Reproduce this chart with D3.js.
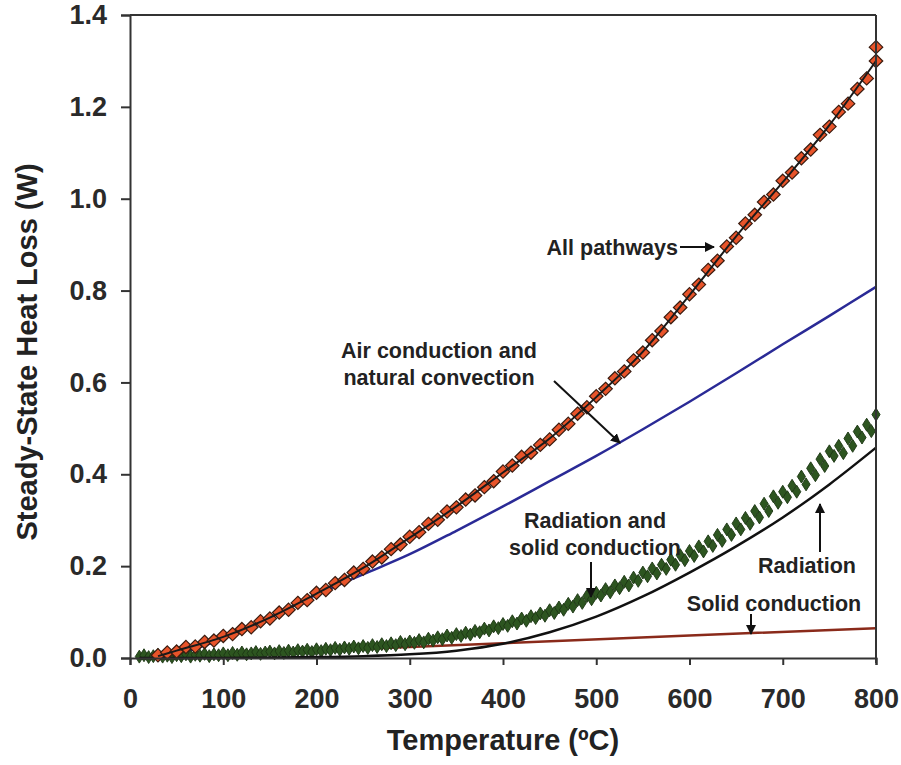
<!DOCTYPE html>
<html><head><meta charset="utf-8">
<script src="https://cdn.jsdelivr.net/npm/d3@7"></script>
<style>
body{margin:0;background:#fff;}
svg{display:block;}
text{font-family:"Liberation Sans",Arial,sans-serif;}
</style></head>
<body><svg id="c" width="901" height="765"></svg>
<script>
// ---------- DATA ----------
const xTicks = [0,100,200,300,400,500,600,700,800];
const yTicks = [0.0,0.2,0.4,0.6,0.8,1.0,1.2,1.4];

// All pathways (measured, orange markers)
const allT = [30,40,50,60,70,80,90,100,110,120,130,140,150,160,170,180,190,200,210,220,230,240,250,260,270,280,290,300,310,320,330,340,350,360,370,380,390,400,410,420,430,440,450,460,470,480,490,500,510,520,530,540,550,560,570,580,590,600,610,620,630,640,650,660,670,680,690,700,710,720,730,740,750,760,770,780,790,800,800];
const allV = [0.006,0.012,0.014,0.024,0.025,0.035,0.038,0.048,0.052,0.063,0.067,0.080,0.086,0.099,0.105,0.120,0.126,0.142,0.148,0.163,0.170,0.186,0.194,0.210,0.219,0.237,0.247,0.264,0.274,0.292,0.301,0.319,0.328,0.345,0.354,0.372,0.385,0.406,0.419,0.438,0.447,0.464,0.476,0.497,0.510,0.532,0.546,0.570,0.586,0.609,0.624,0.648,0.665,0.692,0.712,0.742,0.763,0.792,0.813,0.845,0.865,0.896,0.915,0.946,0.965,0.993,1.009,1.039,1.057,1.088,1.107,1.139,1.157,1.189,1.207,1.239,1.262,1.300,1.330];
// All pathways (model, black line)
const allFitT = [30,50,100,150,200,250,300,350,400,450,500,550,600,650,700,750,800];
const allFitV = [0.004,0.016,0.046,0.088,0.140,0.196,0.262,0.330,0.404,0.478,0.568,0.667,0.790,0.918,1.036,1.160,1.300];

// Air conduction and natural convection (blue line)
const airT = [40,100,150,200,250,300,350,400,450,500,550,600,650,700,750,800];
const airV = [0.000,0.042,0.088,0.138,0.182,0.226,0.277,0.330,0.385,0.440,0.498,0.558,0.620,0.683,0.745,0.808];

// Radiation (black line)
const radT = [10,100,200,250,300,350,400,450,500,550,600,650,700,750,800];
const radV = [0.000,0.000,0.002,0.004,0.008,0.016,0.031,0.056,0.090,0.134,0.186,0.243,0.306,0.378,0.458];

// Solid conduction (brown line)
const solT = [10,200,400,600,800];
const solV = [0.000,0.016,0.032,0.049,0.065];

// Radiation and solid conduction (measured, green markers)
const rsT = d3.range(10,801,5);
const rsV = [0.003,0.006,0.002,0.004,0.007,0.003,0.005,0.002,0.006,
0.004,0.008,0.003,0.007,0.005,0.009,0.004,0.008,0.006,0.010,
0.006,0.011,0.007,0.012,0.008,0.010,0.013,0.009,0.012,0.014,
0.010,0.015,0.011,0.016,0.012,0.017,0.014,0.018,0.013,0.019,
0.015,0.020,0.017,0.022,0.018,0.023,0.020,0.025,0.021,0.026,
0.022,0.028,0.024,0.030,0.026,0.032,0.028,0.035,0.030,0.036,
0.033,0.039,0.034,0.042,0.038,0.045,0.041,0.049,0.044,0.052,
0.048,0.055,0.051,0.059,0.056,0.064,0.060,0.069,0.065,0.074,
0.070,0.080,0.075,0.086,0.081,0.091,0.087,0.097,0.092,0.104,
0.098,0.110,0.105,0.118,0.112,0.126,0.120,0.135,0.128,0.142,
0.136,0.150,0.143,0.158,0.152,0.166,0.158,0.175,0.168,0.186,
0.178,0.195,0.184,0.203,0.194,0.214,0.203,0.224,0.213,0.233,
0.222,0.243,0.232,0.254,0.244,0.268,0.255,0.280,0.268,0.293,
0.280,0.305,0.292,0.320,0.306,0.336,0.320,0.352,0.338,0.362,
0.350,0.375,0.362,0.395,0.378,0.413,0.398,0.433,0.418,0.450,
0.440,0.462,0.446,0.478,0.462,0.493,0.480,0.508,0.494,0.530];

// ---------- CHART ----------
const svg = d3.select("#c");
const x = d3.scaleLinear().domain([0,800]).range([130,876]);
const y = d3.scaleLinear().domain([0,1.4]).range([658,15]);
const axisCol = "#333";

const line = (T,V,curve) => d3.line().x((d,i)=>x(T[i])).y((d,i)=>y(V[i])).curve(curve||d3.curveMonotoneX)(V);

// lines
svg.append("path").attr("d",line(solT,solV,d3.curveLinear)).attr("fill","none").attr("stroke","#8a2a1a").attr("stroke-width",2.5);
svg.append("path").attr("d",line(airT,airV,d3.curveCatmullRom)).attr("fill","none").attr("stroke","#2a2a96").attr("stroke-width",2.5);

// green markers
const sym = d3.symbol().type(d3.symbolDiamond).size(40);
svg.append("g").selectAll("path").data(rsV).join("path")
  .attr("d",sym).attr("transform",(d,i)=>`translate(${x(rsT[i])},${y(d)}) scale(1.2,1.1)`)
  .attr("fill","#2d5520").attr("stroke","#1c3614").attr("stroke-width",0.8);

svg.append("path").attr("d",line(radT,radV,d3.curveCatmullRom)).attr("fill","none").attr("stroke","#111").attr("stroke-width",2.5);

// orange markers
const sym2 = d3.symbol().type(d3.symbolDiamond).size(70);
svg.append("g").selectAll("path").data(allV).join("path")
  .attr("d",sym2).attr("transform",(d,i)=>`translate(${x(allT[i])},${y(d)}) scale(1.5,0.85)`)
  .attr("fill","#e8542a").attr("stroke","#3a1c10").attr("stroke-width",1);
svg.append("path").attr("d",line(allFitT,allFitV)).attr("fill","none").attr("stroke","#1a1a1a").attr("stroke-width",2);

// axes
const yAx = svg.append("g").attr("transform","translate(130,0)")
  .call(d3.axisLeft(y).tickValues(yTicks).tickFormat(d3.format(".1f")).tickSize(9).tickPadding(14));
const xAx = svg.append("g").attr("transform","translate(0,658)")
  .call(d3.axisBottom(x).tickValues(xTicks).tickFormat(d3.format("d")).tickSize(7).tickPadding(24));
[yAx,xAx].forEach(g=>{
  g.select(".domain").attr("stroke",axisCol).attr("stroke-width",2);
  g.selectAll(".tick line").attr("stroke",axisCol).attr("stroke-width",2);
  g.selectAll(".tick text").attr("fill","#2a2a2a").attr("font-size",27).attr("font-weight","bold")
    .attr("font-family","Liberation Sans, Arial, sans-serif");
});
// frame top/right
svg.append("line").attr("x1",x(0)).attr("x2",x(800)).attr("y1",y(1.4)).attr("y2",y(1.4)).attr("stroke",axisCol).attr("stroke-width",2);
svg.append("line").attr("x1",x(800)).attr("x2",x(800)).attr("y1",y(1.4)).attr("y2",y(0)+5).attr("stroke",axisCol).attr("stroke-width",2);

// axis titles
svg.append("text").attr("x",503).attr("y",750).attr("text-anchor","middle")
  .attr("font-size",29).attr("font-weight","bold").attr("fill","#222").text("Temperature (ºC)");
svg.append("text").attr("transform","translate(37,352) rotate(-90)").attr("text-anchor","middle")
  .attr("font-size",29).attr("font-weight","bold").attr("fill","#222").text("Steady-State Heat Loss (W)");

// annotations
svg.append("defs").append("marker").attr("id","ah").attr("viewBox","0 0 10 10").attr("refX",9).attr("refY",5)
  .attr("markerWidth",5).attr("markerHeight",5).attr("orient","auto")
  .append("path").attr("d","M0,0L10,5L0,10z").attr("fill","#111");
const ann = (t,xx,yy,anchor)=>svg.append("text").attr("x",xx).attr("y",yy).attr("text-anchor",anchor||"start")
  .attr("font-size",21.5).attr("font-weight","bold").attr("fill","#222").text(t);
const arrow = (x1,y1,x2,y2)=>svg.append("line").attr("x1",x1).attr("y1",y1).attr("x2",x2).attr("y2",y2)
  .attr("stroke","#111").attr("stroke-width",2).attr("marker-end","url(#ah)");

ann("All pathways",678,255,"end");
arrow(680,247,714,247);
ann("Air conduction and",439,358,"middle");
ann("natural convection",439,385,"middle");
arrow(554,381,620,443);
ann("Radiation and",595,528,"middle");
ann("solid conduction",595,555,"middle");
arrow(591,562,591,597);
ann("Radiation",807,573,"middle");
arrow(820,552,820,504);
ann("Solid conduction",774,611,"middle");
arrow(751,614,751,634);
</script></body></html>
